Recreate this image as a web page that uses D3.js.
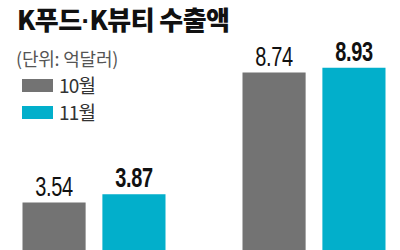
<!DOCTYPE html>
<html>
<head>
<meta charset="utf-8">
<script src="https://cdn.jsdelivr.net/npm/d3@7"></script>
<style>
  body { margin: 0; background: #fff; }
  svg { display: block; }
</style>
</head>
<body>
<svg width="400" height="250"></svg>
<script>
(function() {
    'use strict';

// data
var categories = ["K푸드", "K뷰티"];
var months = ["10월", "11월"];
var oct = [3.54, 8.74];
var nov = [3.87, 8.93];
var colors = ["#737373", "#02afcb"];
var titleParts = ["K푸드", "·", "K뷰티 수출액"];

var rows = categories.map(function(c, i) {
  return {cat: c, vals: [oct[i], nov[i]]};
});

var svg = d3.select("svg");

// scales (baseline sits below the visible crop)
var x0 = d3.scaleBand().domain(categories).range([22.5, 385.5]).paddingInner(0.35);
var x1 = d3.scaleBand().domain(months).range([0, x0.bandwidth()]).paddingInner(0.21);
var y = d3.scaleLinear().domain([0, 10]).range([291, 41]);
var color = d3.scaleOrdinal().domain(months).range(colors);

// title; the dot comes from a latin face so it stays narrow
var title = svg.append("text")
   .attr("x", 17).attr("y", 30)
   .attr("font-family", "'Noto Sans CJK KR', sans-serif")
   .attr("font-weight", 900)
   .attr("font-size", 26)
   .attr("letter-spacing", -0.6)
   .attr("fill", "#111");
title.selectAll("tspan")
   .data(titleParts)
   .enter().append("tspan")
   .attr("font-family", function(d, i) { return i === 1 ? "'Liberation Sans', sans-serif" : null; })
   .text(function(d) { return d; });

svg.append("text")
   .attr("x", 16).attr("y", 66)
   .attr("font-family", "'Noto Sans CJK KR', sans-serif")
   .attr("font-size", 18)
   .attr("letter-spacing", -0.2)
   .attr("fill", "#555")
   .text("(단위: 억달러)");

// legend
var legend = svg.selectAll(".legend")
   .data(months)
   .enter().append("g")
   .attr("class", "legend")
   .attr("transform", function(d, i) { return "translate(22," + (79 + i * 27) + ")"; });

legend.append("rect")
   .attr("width", 31).attr("height", 13)
   .attr("fill", function(d) { return color(d); });

legend.append("text")
   .attr("x", 37).attr("y", 14)
   .attr("font-family", "'Noto Sans CJK KR', sans-serif")
   .attr("font-size", 19)
   .attr("letter-spacing", -0.8)
   .attr("fill", "#333")
   .text(function(d) { return d; });

// bars
var groups = svg.selectAll(".group")
   .data(rows)
   .enter().append("g")
   .attr("class", "group")
   .attr("transform", function(d) { return "translate(" + x0(d.cat) + ",0)"; });

var items = groups.selectAll(".bar")
   .data(function(d) { return d.vals.map(function(v, i) { return {m: months[i], v: v}; }); })
   .enter();

items.append("rect")
   .attr("class", "bar")
   .attr("x", function(d) { return x1(d.m); })
   .attr("y", function(d) { return y(d.v); })
   .attr("width", x1.bandwidth())
   .attr("height", function(d) { return y(0) - y(d.v); })
   .attr("fill", function(d) { return color(d.m); });

// value labels, narrowed to mimic a condensed face
items.append("text")
   .attr("transform", function(d) {
     return "translate(" + (x1(d.m) + x1.bandwidth() / 2) + "," + (y(d.v) - 7) + ") scale(0.74,1)";
   })
   .attr("text-anchor", "middle")
   .attr("font-family", "'Liberation Sans', sans-serif")
   .attr("font-size", 27)
   .attr("font-weight", function(d) { return d.m === "11월" ? "bold" : "normal"; })
   .attr("letter-spacing", -0.5)
   .attr("fill", "#111")
   .text(function(d) { return d.v.toFixed(2); });

})();
</script>
</body>
</html>
